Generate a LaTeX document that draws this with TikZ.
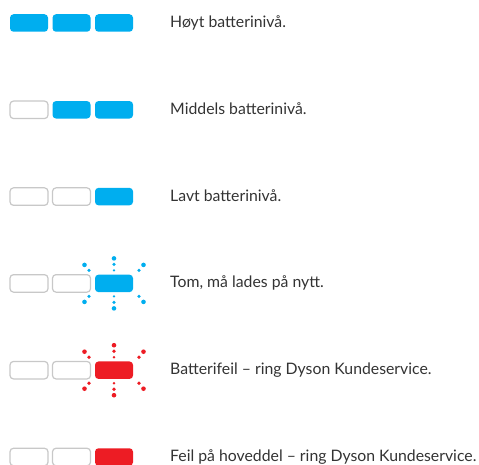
\documentclass[tikz,border=0pt]{standalone}
\usepackage{fontspec}
\setmainfont{Lato}
\usepackage{xcolor}
\usepackage{tikz}
\usetikzlibrary{positioning}
\definecolor{dysonblue}{HTML}{00AEEF}
\definecolor{dysonred}{HTML}{ED1C24}
\definecolor{cellgray}{HTML}{C8C8C8}
\definecolor{textgray}{HTML}{333333}

\begin{document}
\begin{tikzpicture}[x=1pt, y=-1pt, node distance=0pt and 4.5pt]
    % Styles
    \tikzstyle{cell} = [rectangle, rounded corners=3.5pt, minimum width=38pt, minimum height=17.5pt,
                        inner sep=0pt, outer sep=0pt]
    \tikzstyle{cellempty} = [cell, draw=cellgray, line width=1.2pt, fill=white]
    \tikzstyle{cellblue} = [cell, fill=dysonblue]
    \tikzstyle{cellred} = [cell, fill=dysonred]
    \tikzstyle{legend} = [anchor=west, inner sep=0pt, text height=12pt, text depth=3pt,
                          font=\fontsize{15.8}{18}\selectfont, text=textgray]

    \useasboundingbox (0,0) rectangle (479,465);

    % Row 1: high
    \node (a1) [cellblue] at (29,23) {};
    \node (a2) [cellblue, right=of a1] {};
    \node (a3) [cellblue, right=of a2] {};
    \node (atext) [legend, right=37pt of a3] {Høyt batterinivå.};

    % Row 2: medium
    \node (b1) [cellempty] at (29,109.8) {};
    \node (b2) [cellblue, right=of b1] {};
    \node (b3) [cellblue, right=of b2] {};
    \node (btext) [legend, right=37pt of b3] {Middels batterinivå.};

    % Row 3: low
    \node (c1) [cellempty] at (29,196.6) {};
    \node (c2) [cellempty, right=of c1] {};
    \node (c3) [cellblue, right=of c2] {};
    \node (ctext) [legend, right=37pt of c3] {Lavt batterinivå.};

    % Row 4: empty, blinking blue
    \node (d1) [cellempty] at (29,283.4) {};
    \node (d2) [cellempty, right=of d1] {};
    \node (d3) [cellblue, right=of d2] {};
    \node (dtext) [legend, right=37pt of d3] {Tom, må lades på nytt.};

    % Row 5: battery fault, blinking red
    \node (e1) [cellempty] at (29,370.2) {};
    \node (e2) [cellempty, right=of e1] {};
    \node (e3) [cellred, right=of e2] {};
    \node (etext) [legend, right=37pt of e3] {Batterifeil – ring Dyson Kundeservice.};

    % Row 6: main body fault
    \node (f1) [cellempty] at (29,457) {};
    \node (f2) [cellempty, right=of f1] {};
    \node (f3) [cellred, right=of f2] {};
    \node (ftext) [legend, right=37pt of f3] {Feil på hoveddel – ring Dyson Kundeservice.};

    % Blink rays
    \foreach \cell/\col in {d3/dysonblue, e3/dysonred} {
        \foreach \dy/\r in {13/1.3, 19/1.8, 25/2.3} {
            \fill [\col] (\cell.center) ++(0,-\dy) circle (\r pt);
            \fill [\col] (\cell.center) ++(0,\dy) circle (\r pt);
        }
        \foreach \dx/\dy/\r in {25/13/1.8, 29.5/18.5/2.3} {
            \fill [\col] (\cell.center) ++(-\dx,-\dy) circle (\r pt);
            \fill [\col] (\cell.center) ++(\dx,-\dy) circle (\r pt);
            \fill [\col] (\cell.center) ++(-\dx,\dy) circle (\r pt);
            \fill [\col] (\cell.center) ++(\dx,\dy) circle (\r pt);
        }
    }

\end{tikzpicture}
\end{document}
